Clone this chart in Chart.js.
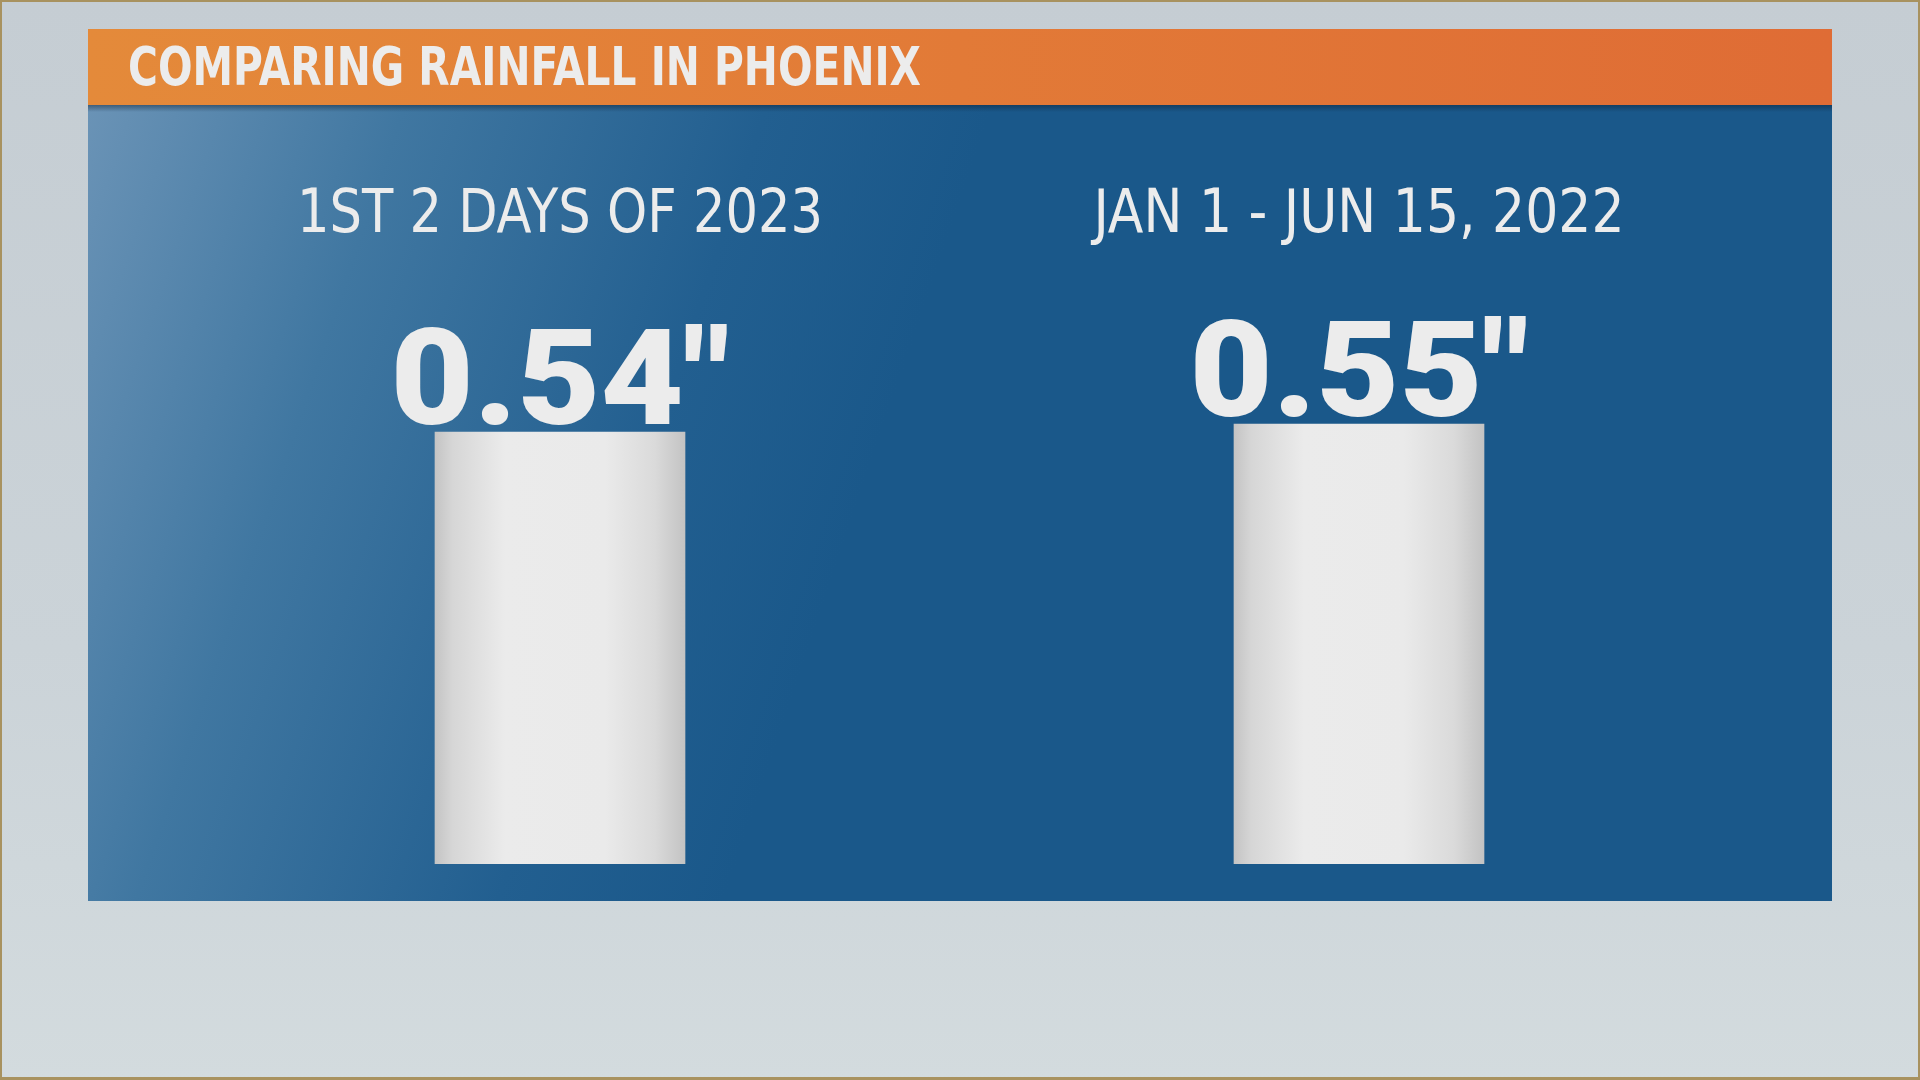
<!DOCTYPE html>
<html>
<head>
<meta charset="utf-8">
<script src="https://cdn.jsdelivr.net/npm/chart.js@4.4.1/dist/chart.umd.min.js"></script>
<style>
  html, body { margin: 0; padding: 0; overflow: hidden; background: #c9d1d6; }
  #wrap { width: 1920px; height: 1080px; position: relative; }
</style>
</head>
<body>
<div id="wrap"><canvas id="c" width="1920" height="1080"></canvas></div>
<script>
// ---- data ----
const titleText = 'COMPARING RAINFALL IN PHOENIX';
const categories = ['1ST 2 DAYS OF 2023', 'JAN 1 - JUN 15, 2022'];
const rainfall = [0.54, 0.55];
const unitSuffix = '"';

// ---- styles ----
const TEXT_COLOR = '#ececec';
const CONDENSED = '"Liberation Sans Narrow", "DejaVu Sans Condensed", "Roboto", sans-serif';
const HEAVY = '"Roboto", "Inter", "Lato", sans-serif';
const LABEL_WIDTHS = [526, 531];

function squeezeText(ctx, text, x, y, font, targetW, align) {
  ctx.save();
  ctx.font = font;
  const w = ctx.measureText(text).width;
  const s = targetW / w;
  ctx.translate(x, y);
  ctx.scale(s, 1);
  ctx.textAlign = align;
  ctx.textBaseline = 'alphabetic';
  ctx.fillText(text, 0, 0);
  ctx.restore();
}

const backdrop = {
  id: 'backdrop',
  beforeDraw(chart) {
    const ctx = chart.ctx;
    ctx.save();
    let g = ctx.createLinearGradient(0, 0, 0, 1080);
    g.addColorStop(0, '#c5cdd3');
    g.addColorStop(0.6, '#cbd3d8');
    g.addColorStop(1, '#d3dbde');
    ctx.fillStyle = g;
    ctx.fillRect(0, 0, 1920, 1080);
    ctx.fillStyle = '#a8925f';
    ctx.fillRect(0, 0, 1920, 2);
    ctx.fillRect(0, 0, 2, 1080);
    ctx.fillRect(0, 1077, 1920, 3);
    ctx.fillRect(1918, 0, 2, 1080);

    g = ctx.createLinearGradient(88, 105, 900, 380);
    g.addColorStop(0, '#6a93b6');
    g.addColorStop(0.35, '#4077a1');
    g.addColorStop(0.75, '#225f90');
    g.addColorStop(1, '#1a588a');
    ctx.fillStyle = g;
    ctx.fillRect(88, 105, 1744, 796);
    g = ctx.createLinearGradient(0, 105, 0, 112);
    g.addColorStop(0, 'rgba(10,30,50,0.45)');
    g.addColorStop(1, 'rgba(10,30,50,0)');
    ctx.fillStyle = g;
    ctx.fillRect(88, 105, 1744, 7);

    g = ctx.createLinearGradient(88, 0, 1832, 0);
    g.addColorStop(0, '#e48a3a');
    g.addColorStop(0.5, '#e27a37');
    g.addColorStop(1, '#df6c35');
    ctx.fillStyle = g;
    ctx.fillRect(88, 29, 1744, 76);

    ctx.fillStyle = TEXT_COLOR;
    squeezeText(ctx, titleText, 128, 85, 'bold 53px ' + CONDENSED, 793, 'left');

    const xs = chart.scales.x;
    ctx.fillStyle = TEXT_COLOR;
    categories.forEach((lab, i) => {
      squeezeText(ctx, lab, xs.getPixelForValue(i), 232, '61px ' + CONDENSED, LABEL_WIDTHS[i], 'center');
    });
    ctx.restore();
  },
  afterDatasetsDraw(chart) {
    const ctx = chart.ctx;
    const meta = chart.getDatasetMeta(0);
    ctx.save();
    ctx.fillStyle = TEXT_COLOR;
    const font = '900 134px ' + HEAVY;
    ctx.font = font;
    const first = rainfall[0].toFixed(2) + unitSuffix;
    const vScale = 339 / ctx.measureText(first).width;
    meta.data.forEach((bar, i) => {
      const txt = rainfall[i].toFixed(2) + unitSuffix;
      ctx.save();
      ctx.font = font;
      ctx.translate(bar.x, bar.y - 8);
      ctx.scale(vScale, 1);
      ctx.textAlign = 'center';
      ctx.textBaseline = 'alphabetic';
      ctx.fillText(txt, 0, 0);
      ctx.restore();
    });
    ctx.restore();
  }
};

const BAR_W = 250;
function barFill(context) {
  const chart = context.chart;
  const xs = chart.scales && chart.scales.x;
  if (!xs || !chart.chartArea) return '#e9e9e9';
  const cx = xs.getPixelForValue(context.dataIndex);
  const x0 = cx - BAR_W / 2, x1 = cx + BAR_W / 2;
  const g = chart.ctx.createLinearGradient(x0, 0, x1, 0);
  g.addColorStop(0, '#c4c4c4');
  g.addColorStop(0.07, '#d6d6d6');
  g.addColorStop(0.28, '#ebebeb');
  g.addColorStop(0.68, '#eaeaea');
  g.addColorStop(0.88, '#dadada');
  g.addColorStop(1, '#c3c3c3');
  return g;
}

new Chart(document.getElementById('c'), {
  type: 'bar',
  data: {
    labels: categories,
    datasets: [{
      data: rainfall,
      backgroundColor: barFill,
      borderWidth: 0,
      barThickness: BAR_W
    }]
  },
  options: {
    responsive: false,
    animation: false,
    devicePixelRatio: 1,
    layout: { padding: { left: 160.5, right: 161.5, top: 264, bottom: 216 } },
    scales: {
      x: { display: false, offset: true },
      y: { display: false, min: 0, max: 0.75 }
    },
    plugins: { legend: { display: false }, tooltip: { enabled: false }, title: { display: false } }
  },
  plugins: [backdrop]
});
</script>
</body>
</html>
